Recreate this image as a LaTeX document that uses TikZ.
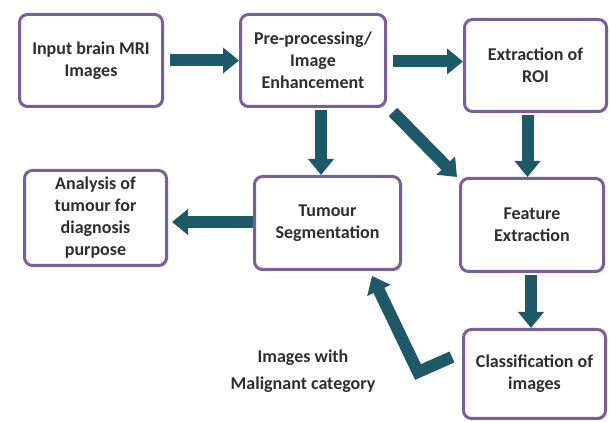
\documentclass[tikz,border=0pt]{standalone}
\usepackage{fontspec}
\setmainfont{Carlito}
\usetikzlibrary{arrows.meta,shadows}
\definecolor{arrowteal}{HTML}{1E5968}
\definecolor{boxpurple}{HTML}{7A5E9C}
\definecolor{txtgray}{HTML}{2E2E2E}
\tikzset{
  stepbox/.style={draw=boxpurple, line width=3pt, rounded corners=8pt, fill=white,
    align=center, inner sep=2pt, text=txtgray,
    font=\fontsize{18pt}{22pt}\selectfont\bfseries,
    drop shadow={shadow xshift=1.5pt, shadow yshift=-1.5pt, fill=black!25, opacity=0.6}},
  bigarrow/.style={draw=arrowteal, line width=12pt, line join=miter,
    -{Triangle[width=25pt,length=16pt,fill=arrowteal]}},
}
\begin{document}
\begin{tikzpicture}[x=1pt,y=1pt]
\useasboundingbox (0,0) rectangle (611,422);
\node[stepbox, minimum width=143pt, minimum height=92pt] (b1) at (91,361.5) {Input brain MRI\\Images};
\node[stepbox, minimum width=145pt, minimum height=92pt] (b2) at (313,361.5) {Pre-processing/\\Image\\Enhancement};
\node[stepbox, minimum width=142pt, minimum height=92pt] (b3) at (535.5,356.5) {Extraction of\\ROI};
\node[stepbox, minimum width=142pt, minimum height=95pt] (an) at (95.5,204) {Analysis of\\tumour for\\diagnosis\\purpose};
\node[stepbox, minimum width=146pt, minimum height=93pt] (tu) at (327.5,199) {Tumour\\Segmentation};
\node[stepbox, minimum width=143pt, minimum height=93pt] (fe) at (532,197) {Feature\\Extraction};
\node[stepbox, minimum width=142pt, minimum height=89pt] (cl) at (534.5,48) {Classification of\\images};
\node[text=txtgray, align=center, font=\fontsize{18pt}{27pt}\selectfont\bfseries] (lab) at (303,51) {Images with\\Malignant category};
% arrows
\draw[bigarrow] ([xshift=6pt]b1.east) -- (b2.west);
\draw[bigarrow] ([xshift=6pt,yshift=-1pt]b2.east) -- ([yshift=-1pt]b2.east -| b3.west);
\draw[bigarrow] ([xshift=8pt,yshift=-2pt]b2.south) -- ([xshift=8pt]b2.south |- tu.north);
\draw[bigarrow] ([xshift=6pt,yshift=-4pt]b2.south east) -- ([xshift=-2pt]fe.north west);
\draw[bigarrow] ([xshift=-8pt,yshift=-2pt]b3.south) -- ([xshift=-8pt]b3.south |- fe.north);
\draw[bigarrow] ([yshift=1pt]tu.west) -- ([xshift=4pt,yshift=1pt]tu.west -| an.east);
\draw[bigarrow] ([xshift=-1pt,yshift=-2pt]fe.south) -- ([xshift=-1pt]fe.south |- cl.north);
\coordinate (bend) at (418,50);
\draw[bigarrow] ([xshift=-10pt,yshift=17pt]cl.west) -- (bend) -- ([xshift=-30pt,yshift=-5pt]tu.south east);
\end{tikzpicture}
\end{document}
